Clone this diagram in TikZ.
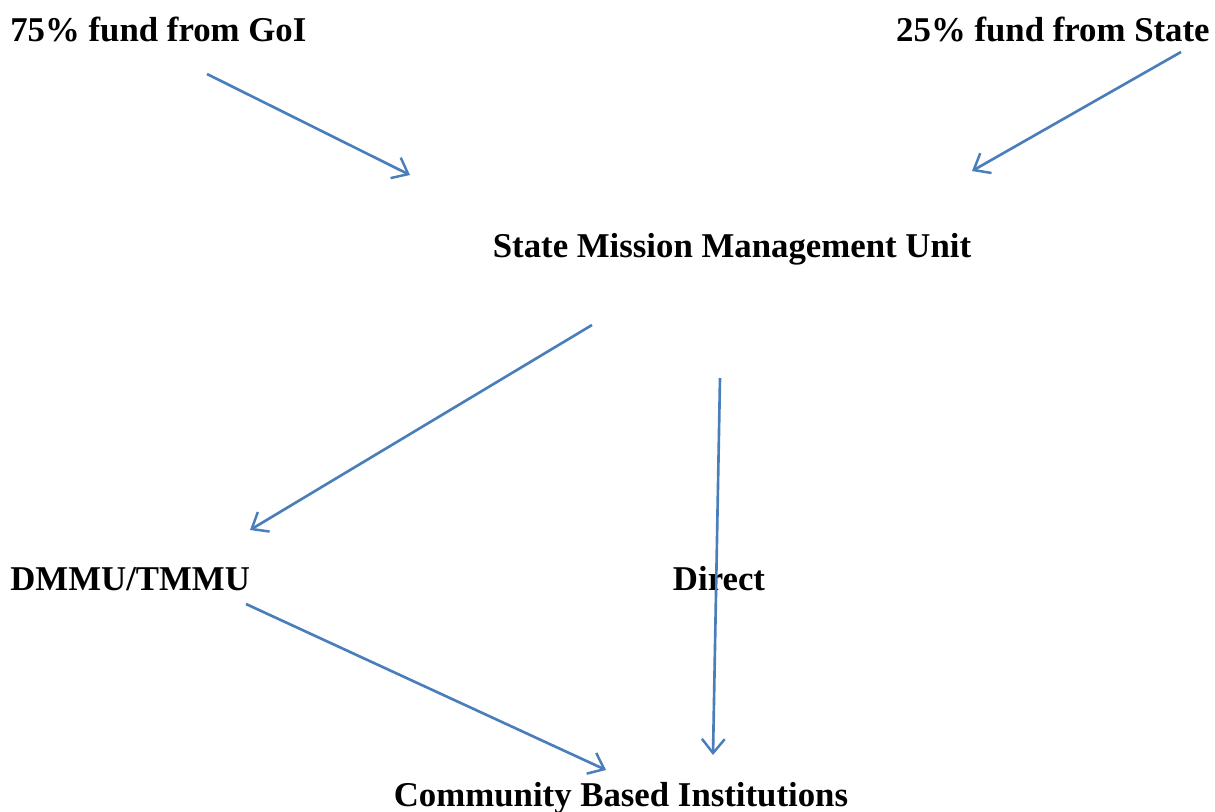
\documentclass[tikz,border=0pt]{standalone}
\usepackage{fontspec}
\setmainfont{Liberation Serif}
\usetikzlibrary{arrows.meta}

\definecolor{flowblue}{HTML}{4A7EBB}

\begin{document}
\begin{tikzpicture}[x=0.02cm,y=-0.02cm,
    lbl/.style={font=\fontsize{19.8}{24}\selectfont\bfseries, inner sep=0pt},
    flow/.style={draw=flowblue, line width=1.5pt, -{Straight Barb[length=8pt,width=13pt,line width=1.4pt]}}]
    % 余白を固定 (1215 x 812 px)
    \useasboundingbox (0,0) rectangle (1215,812);

    % ラベル
    \node[lbl, anchor=west] (goi) at (10,29) {75\% fund from GoI};
    \node[lbl, anchor=east] (state) at (1210,29) {25\% fund from State};
    \node[lbl] (smmu) at (732,249) {State Mission Management Unit};
    \node[lbl, anchor=west] (dmmu) at (10,579) {DMMU/TMMU};
    \node[lbl] (direct) at (719,579) {Direct};
    \node[lbl] (cbi) at (621,798) {Community Based Institutions};

    % 矢印の端点
    \coordinate (goiS) at (207,74);   \coordinate (goiE) at (410,175);
    \coordinate (stS) at (1181,52);   \coordinate (stE) at (972,171);
    \coordinate (smL) at (592,325);   \coordinate (dmE) at (250,530);
    \coordinate (smR) at (720,378);   \coordinate (cbR) at (713,755);
    \coordinate (dmS) at (246,604);   \coordinate (cbL) at (606,770);

    % 矢印
    \draw[flow] (goiS) -- (goiE);
    \draw[flow] (stS) -- (stE);
    \draw[flow] (smL) -- (dmE);
    \draw[flow] (smR) -- (cbR);
    \draw[flow] (dmS) -- (cbL);
\end{tikzpicture}
\end{document}
